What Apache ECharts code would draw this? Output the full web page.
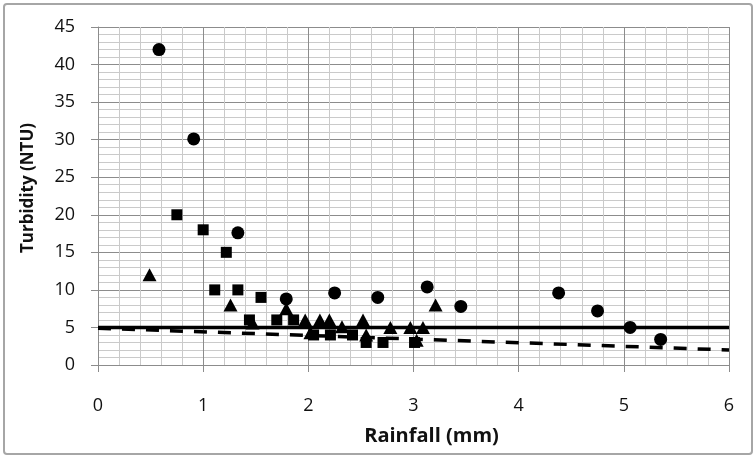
<!DOCTYPE html>
<html>
<head>
<meta charset="utf-8">
<script src="https://cdn.jsdelivr.net/npm/echarts@6/dist/echarts.min.js"></script>
<style>
  html, body { margin: 0; padding: 0; background: #fff; }
  #chart { width: 756px; height: 457px; }
</style>
</head>
<body>
<div id="chart"></div>
<script>
// rainfall (mm) vs turbidity (NTU), three series
const circlePts = [
  [0.58, 42], [0.91, 30.1], [1.33, 17.6], [1.79, 8.8], [2.25, 9.6], [2.66, 9.0],
  [3.13, 10.4], [3.45, 7.8], [4.38, 9.6], [4.75, 7.2], [5.06, 5.0], [5.35, 3.4]
];
const squarePts = [
  [0.75, 20], [1.0, 18], [1.22, 15], [1.11, 10], [1.33, 10], [1.55, 9],
  [1.44, 6], [1.70, 6], [1.86, 6], [2.05, 4], [2.21, 4], [2.42, 4],
  [2.55, 3], [2.71, 3], [3.01, 3]
];
const trianglePts = [
  [0.49, 12], [1.26, 8], [1.79, 7.5], [1.47, 5.6], [1.97, 6], [2.11, 6],
  [2.2, 6], [2.32, 5.1], [2.02, 4.3], [2.52, 6], [2.55, 4], [2.78, 5],
  [2.97, 5], [3.09, 5], [3.03, 3.3], [3.21, 8]
];
const limitLine = [[0, 5], [6, 5]];
const trendLine = [[0, 4.9], [6, 2.0]];

const xTicks = { min: 0, max: 6, step: 1 };
const yTicks = { min: 0, max: 45, step: 5 };

const chart = echarts.init(document.getElementById('chart'));
const font = 'Open Sans';

chart.setOption({
  animation: false,
  backgroundColor: '#fff',
  graphic: [{
    type: 'rect',
    shape: { x: 4, y: 4, width: 748, height: 450, r: 3 },
    style: { fill: 'none', stroke: '#a6a6a6', lineWidth: 2 },
    silent: true
  }],
  grid: { left: 98, right: 27, top: 27, bottom: 92 },
  xAxis: {
    type: 'value',
    min: xTicks.min, max: xTicks.max, interval: xTicks.step,
    name: 'Rainfall (mm)',
    nameLocation: 'middle',
    nameGap: 61,
    nameTextStyle: { fontFamily: font, fontSize: 20, fontWeight: 'bold', color: '#111', padding: [0, 0, 0, 36] },
    axisLine: { show: true, onZero: false, lineStyle: { color: '#8c8c8c', width: 1 } },
    axisTick: { show: true, length: 7, lineStyle: { color: '#8c8c8c' } },
    axisLabel: { fontFamily: font, fontSize: 18, color: '#111', margin: 32 },
    splitLine: { show: true, lineStyle: { color: '#8c8c8c', width: 1 } },
    minorTick: { show: false, splitNumber: 5 },
    minorSplitLine: { show: true, lineStyle: { color: '#cacaca', width: 1 } }
  },
  yAxis: {
    type: 'value',
    min: yTicks.min, max: yTicks.max, interval: yTicks.step,
    name: 'Turbidity (NTU)',
    nameLocation: 'middle',
    nameGap: 61,
    nameRotate: 90,
    nameTextStyle: { fontFamily: font, fontSize: 17, fontWeight: 'bold', color: '#111', padding: [0, 0, 0, 16] },
    axisLine: { show: true, lineStyle: { color: '#8c8c8c', width: 1 } },
    axisTick: { show: true, length: 7, lineStyle: { color: '#8c8c8c' } },
    axisLabel: { fontFamily: font, fontSize: 18, color: '#111', margin: 23 },
    splitLine: { show: true, lineStyle: { color: '#8c8c8c', width: 1 } },
    minorTick: { show: false, splitNumber: 5 },
    minorSplitLine: { show: true, lineStyle: { color: '#cacaca', width: 1 } }
  },
  series: [
    {
      type: 'line', data: limitLine, symbol: 'none',
      lineStyle: { color: '#000', width: 3.5 }, z: 3
    },
    {
      type: 'line', data: trendLine, symbol: 'none',
      lineStyle: { color: '#000', width: 3.5, type: [13, 11] }, z: 3
    },
    {
      type: 'scatter', data: squarePts, symbol: 'rect', symbolSize: 11,
      itemStyle: { color: '#000', opacity: 1 }, z: 4
    },
    {
      type: 'scatter', data: trianglePts, symbol: 'triangle', symbolSize: [14, 13],
      itemStyle: { color: '#000', opacity: 1 }, z: 5
    },
    {
      type: 'scatter', data: circlePts, symbol: 'circle', symbolSize: 13,
      itemStyle: { color: '#000', opacity: 1 }, z: 6
    }
  ]
});
</script>
</body>
</html>
